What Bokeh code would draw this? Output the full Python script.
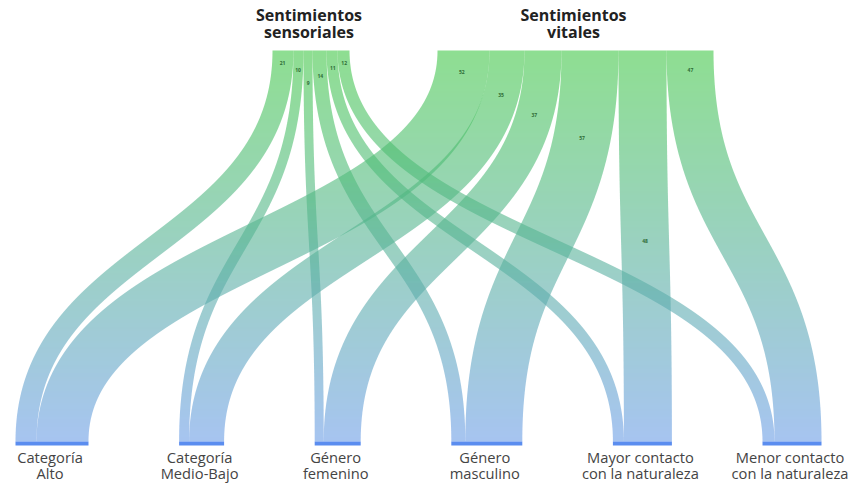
import numpy as np
from bokeh.plotting import figure
from bokeh.models import Range1d, ColumnDataSource
from bokeh.embed import file_html
from bokeh.resources import INLINE
from bokeh.core.properties import value

# ---------------- data ----------------
source_names = ["Sentimientos sensoriales", "Sentimientos vitales"]
source_lines = [["Sentimientos", "sensoriales"], ["Sentimientos", "vitales"]]
target_names = ["Categoría Alto", "Categoría Medio-Bajo", "Género femenino",
                "Género masculino", "Mayor contacto con la naturaleza",
                "Menor contacto con la naturaleza"]
target_lines = [["Categoría", "Alto"], ["Categoría", "Medio-Bajo"],
                ["Género", "femenino"], ["Género", "masculino"],
                ["Mayor contacto", "con la naturaleza"],
                ["Menor contacto", "con la naturaleza"]]
sensoriales = [21, 10, 9, 14, 11, 12]
vitales = [52, 35, 37, 57, 48, 47]
flows = [sensoriales, vitales]

# label placement along each link (fraction of the vertical run)
label_frac = [[0.033, 0.049, 0.082, 0.066, 0.046, 0.033],
              [0.054, 0.115, 0.166, 0.223, 0.488, 0.051]]

# ---------------- layout / style ----------------
W, H, OFF = 849, 485, 0
K = 1.0                     # px per unit
Y_TOP, Y_BOT = 50, 441      # link start / end
BAR_H = 4
BOT_X0, BOT_X1 = 15, 821
TOP_X0, TOP_GAP = 272, 88
GREEN = np.array([67, 200, 72])
BLUE = np.array([107, 157, 230])
ALPHA = 0.6
NODE_BLUE = "#5b8def"
FONT = "Open Sans"
TITLE_Y = [14, 31]
LABEL_Y = [456, 472]

p = figure(width=W, height=H, x_range=Range1d(OFF, OFF + W),
           y_range=Range1d(OFF + H, OFF), output_backend="svg",
           toolbar_location=None, x_axis_type=None, y_axis_type=None,
           min_border=0)
p.outline_line_color = None
p.grid.visible = False
p.background_fill_color = "white"
p.border_fill_color = "white"

nS, nT = len(flows), len(target_names)
tgt_tot = [sum(flows[i][j] for i in range(nS)) * K for j in range(nT)]
gap = (BOT_X1 - BOT_X0 - sum(tgt_tot)) / (nT - 1)
tgt_x0 = []
x = BOT_X0
for w in tgt_tot:
    tgt_x0.append(x)
    x += w + gap
src_tot = [sum(f) * K for f in flows]
src_x0 = []
x = TOP_X0
for w in src_tot:
    src_x0.append(x)
    x += w + TOP_GAP


def hexcol(c):
    c = np.clip(np.round(c), 0, 255).astype(int)
    return "#%02x%02x%02x" % tuple(c)


tt = np.linspace(0, 1, 800)
ym = (Y_TOP + Y_BOT) / 2
strip_edges = np.concatenate([[Y_TOP], np.arange(Y_TOP + 0.5, Y_BOT, 2), [Y_BOT]])
pxs, pys, pcols = [], [], []
lab_x, lab_y, lab_t = [], [], []
tgt_off = [0.0] * nT
for i in range(nS):
    s_off = 0.0
    for j in range(nT):
        w = flows[i][j] * K
        xs = src_x0[i] + s_off + w / 2
        xt = tgt_x0[j] + tgt_off[j] + w / 2
        s_off += w
        tgt_off[j] += w
        cx = xs + (xt - xs) * (3 * tt**2 - 2 * tt**3)
        cy = (1 - tt)**3 * Y_TOP + 3 * (1 - tt)**2 * tt * ym + 3 * (1 - tt) * tt**2 * ym + tt**3 * Y_BOT
        dx = 6 * (1 - tt) * tt * (xt - xs)
        dy = 1.5 * (Y_BOT - Y_TOP) * ((1 - tt)**2 + tt**2)
        nrm = np.hypot(dx, dy)
        nx, ny = dy / nrm, -dx / nrm
        xr, yr = cx + nx * w / 2, cy + ny * w / 2
        xl, yl = cx - nx * w / 2, cy - ny * w / 2
        yr = np.clip(np.maximum.accumulate(yr), Y_TOP, Y_BOT)
        yl = np.clip(np.maximum.accumulate(yl), Y_TOP, Y_BOT)
        for a, b in zip(strip_edges[:-1], strip_edges[1:]):
            xla, xlb = np.interp([a, b], yl, xl)
            xra, xrb = np.interp([a, b], yr, xr)
            pxs.append([xla, xra, xrb, xlb])
            pys.append([a, a, b, b])
            f = ((a + b) / 2 - Y_TOP) / (Y_BOT - Y_TOP)
            pcols.append(hexcol(GREEN + (BLUE - GREEN) * f))
        ly = Y_TOP + label_frac[i][j] * (Y_BOT - Y_TOP)
        lab_x.append(float(np.interp(ly, cy, cx)))
        lab_y.append(ly)
        lab_t.append(str(flows[i][j]))

p.patches(xs="xs", ys="ys", fill_color="c", fill_alpha=ALPHA, line_color=None,
          source=ColumnDataSource(dict(xs=pxs, ys=pys, c=pcols)))

# value labels (tiny)
p.text(x=lab_x, y=lab_y, text=lab_t, text_font=value(FONT), text_font_size="5px",
       text_font_style="bold", text_color="#2e6b35", text_align="center",
       text_baseline="middle")

# bottom node bars
p.quad(left=tgt_x0, right=[a + b for a, b in zip(tgt_x0, tgt_tot)],
       top=[Y_BOT] * nT, bottom=[Y_BOT + BAR_H] * nT,
       fill_color=NODE_BLUE, line_color=None)

# target labels
tcx = [a + b / 2 - 2 for a, b in zip(tgt_x0, tgt_tot)]
for k in range(2):
    p.text(x=tcx, y=[LABEL_Y[k]] * nT, text=[l[k] for l in target_lines],
           text_font=value(FONT), text_font_size="14.7px", text_color="#444444",
           text_align="center", text_baseline="alphabetic")

# source titles
scx = [a + b / 2 - 2 for a, b in zip(src_x0, src_tot)]
for k in range(2):
    p.text(x=scx, y=[TITLE_Y[k]] * nS, text=[l[k] for l in source_lines],
           text_font=value(FONT), text_font_size="16px", text_font_style="bold",
           text_color="#222222", text_align="center", text_baseline="alphabetic")

open("out.html", "w").write(file_html(p, INLINE))
